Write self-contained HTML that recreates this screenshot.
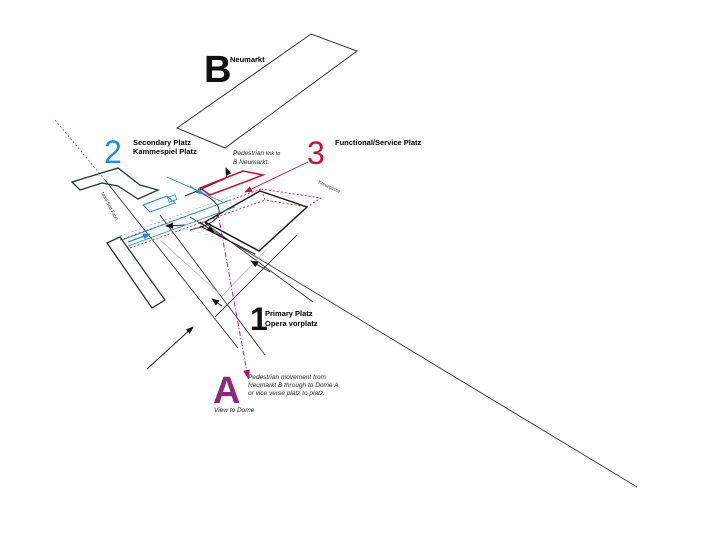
<!DOCTYPE html>
<html><head><meta charset="utf-8"><style>
html,body{margin:0;padding:0;background:#fff;}
svg{display:block;}
text{font-family:"Liberation Sans",sans-serif;}
.b{font-weight:bold;font-size:7.5px;}
.i{font-style:italic;font-size:6.5px;fill:#222;}
</style></head><body>
<svg width="720" height="540" viewBox="0 0 720 540" xmlns="http://www.w3.org/2000/svg">
<defs>
<marker id="ak" markerWidth="8" markerHeight="8" refX="7" refY="4" orient="auto" markerUnits="userSpaceOnUse"><path d="M0,1 L8,4 L0,7 z" fill="#111"/></marker>
<marker id="ab" markerWidth="8" markerHeight="8" refX="7" refY="4" orient="auto" markerUnits="userSpaceOnUse"><path d="M0,1 L8,4 L0,7 z" fill="#2a8ad0"/></marker>
<marker id="ar" markerWidth="8" markerHeight="8" refX="7" refY="4" orient="auto" markerUnits="userSpaceOnUse"><path d="M0,1 L8,4 L0,7 z" fill="#c0143c"/></marker>
<marker id="am" markerWidth="9" markerHeight="9" refX="8" refY="4.5" orient="auto" markerUnits="userSpaceOnUse"><path d="M0,1 L9,4.5 L0,8 z" fill="#b0107a"/></marker>
</defs>

<polygon points="177,128 311,34 357,51 225,148" fill="none" stroke="#333" stroke-width="1"/>
<text x="204" y="82" font-size="38" font-weight="bold" fill="#111">B</text>
<text x="230" y="62" class="b" font-size="6.5">Neumarkt</text>

<line x1="55" y1="120" x2="105" y2="180" stroke="#555" stroke-width="0.7" stroke-dasharray="2,2"/>
<line x1="105" y1="180" x2="238" y2="348" stroke="#333" stroke-width="0.9"/>
<line x1="160" y1="215" x2="265" y2="355" stroke="#333" stroke-width="0.9"/>
<line x1="190" y1="217" x2="637" y2="487" stroke="#333" stroke-width="0.9"/>
<line x1="205" y1="223" x2="313" y2="302" stroke="#333" stroke-width="0.9"/>
<line x1="215" y1="317" x2="297" y2="235" stroke="#333" stroke-width="0.9"/>
<line x1="160" y1="240" x2="222" y2="296" stroke="#bbb" stroke-width="0.8"/>
<line x1="222" y1="296" x2="266" y2="250" stroke="#bbb" stroke-width="0.8"/>
<line x1="150" y1="220" x2="265" y2="250" stroke="#ccc" stroke-width="0.7" stroke-dasharray="4,3"/>

<line x1="147" y1="369" x2="193" y2="327" stroke="#222" stroke-width="1" marker-end="url(#ak)"/>
<line x1="270" y1="272" x2="251" y2="261" stroke="#222" stroke-width="1" marker-end="url(#ak)"/>
<line x1="222" y1="306" x2="212" y2="299" stroke="#222" stroke-width="1" marker-end="url(#ak)"/>
<line x1="200" y1="222" x2="214" y2="232" stroke="#222" stroke-width="1" marker-end="url(#ak)"/>
<line x1="185" y1="225" x2="166" y2="226" stroke="#222" stroke-width="1" marker-end="url(#ak)"/>
<path d="M185,196 C200,190 210,185 222,180 C228,178 228,173 226,168" fill="none" stroke="#222" stroke-width="1" marker-end="url(#ak)"/>
<path d="M198,192 C220,200 235,220 190,230" fill="none" stroke="#222" stroke-width="0.9"/>

<polygon points="205,222 260,191 307,207 259,251" fill="none" stroke="#111" stroke-width="1.4"/>
<line x1="200" y1="226" x2="255" y2="254" stroke="#111" stroke-width="1"/>

<polygon points="200,188 243,171 263,175 210,195" fill="none" stroke="#c0143c" stroke-width="1.5"/>
<polygon points="261,189 321,198 307,207 265,200" fill="none" stroke="#c0143c" stroke-width="0.8" stroke-dasharray="2,2"/>
<line x1="120" y1="240" x2="261" y2="189" stroke="#c0143c" stroke-width="0.8" stroke-dasharray="2,2"/>
<line x1="130" y1="248" x2="265" y2="200" stroke="#c0143c" stroke-width="0.8" stroke-dasharray="2,2"/>
<line x1="308" y1="162" x2="245" y2="192" stroke="#c0143c" stroke-width="0.9" marker-end="url(#ar)"/>

<line x1="218" y1="213" x2="248" y2="378" stroke="#b0107a" stroke-width="0.9" stroke-dasharray="5,2,1,2" marker-end="url(#am)"/>

<line x1="167" y1="177" x2="225" y2="203" stroke="#2a8ad0" stroke-width="0.9"/>
<line x1="190" y1="186" x2="203" y2="194" stroke="#2a8ad0" stroke-width="1" marker-end="url(#ab)"/>
<polygon points="143,205 167,196 175,203 150,212" fill="none" stroke="#2a8ad0" stroke-width="1"/>
<rect x="168" y="196" width="8" height="5" fill="none" stroke="#2a8ad0" stroke-width="0.8" transform="rotate(-20 172 198)"/>
<line x1="122" y1="240" x2="230" y2="200" stroke="#2a8ad0" stroke-width="0.9"/>
<line x1="128" y1="246" x2="235" y2="207" stroke="#2a8ad0" stroke-width="0.9"/>
<line x1="128" y1="242" x2="150" y2="234" stroke="#2a8ad0" stroke-width="1.2" marker-end="url(#ab)"/>
<line x1="120" y1="236" x2="235" y2="195" stroke="#7a8ac0" stroke-width="0.6" stroke-dasharray="2,2"/>

<polygon points="72,182 118,168 140,185 158,190 138,199 118,186 102,183 80,190" fill="none" stroke="#1f3a26" stroke-width="1.3"/>
<polygon points="107,243 120,237 165,300 152,308" fill="none" stroke="#1f3a26" stroke-width="1.3"/>

<text x="104" y="163" font-size="32" fill="#1f8ad6">2</text>
<text x="133" y="145" class="b">Secondary Platz</text>
<text x="133" y="154" class="b">Kammespiel Platz</text>
<text x="307" y="164" font-size="32" fill="#c0143c">3</text>
<text x="335" y="145" class="b">Functional/Service Platz</text>
<text x="233" y="155" class="i">Pedestrian <tspan font-size="5.5">link to</tspan></text>
<text x="233" y="164" class="i" font-size="5.5">B Neumarkt.</text>
<text x="318" y="183" font-size="4.5" fill="#333" transform="rotate(25 318 183)">Kreuzgasse</text>
<text x="101" y="193" font-size="4.5" fill="#333" transform="rotate(62 101 193)">Nord-Süd-Fahrt</text>
<text x="250" y="330" font-size="32" font-weight="bold" fill="#111">1</text>
<text x="265" y="316" class="b">Primary Platz</text>
<text x="265" y="326" class="b">Opera vorplatz</text>
<text x="213" y="403" font-size="38" font-weight="bold" fill="#8a2a7a">A</text>
<text x="214" y="412" class="i">View to Dome</text>
<text x="248" y="379" class="i">Pedestrian movement from</text>
<text x="248" y="387" class="i">Neumarkt B through to Dome A</text>
<text x="248" y="395" class="i">or vice verse  platz to platz.</text>
</svg>
</body></html>
